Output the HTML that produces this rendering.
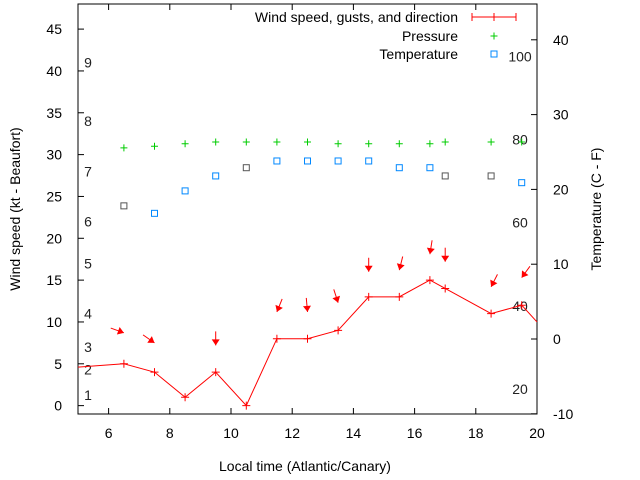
<!DOCTYPE html>
<html><head><meta charset="utf-8"><style>
body{margin:0;background:#fff}
svg{display:block;font-family:"Liberation Sans",sans-serif}
</style></head><body>
<svg id="chart" width="640" height="480" xmlns="http://www.w3.org/2000/svg"></svg>
<script>
const windX=[5,6.5,7.5,8.5,9.5,10.5,11.5,12.5,13.5,14.5,15.5,16.5,17,18.5,19.5,20];
const windY=[4.6,5,4,1,4,0,8,8,9,13,13,15,14,11,12,10];
const arrowX=[6.5,7.5,9.5,11.5,12.5,13.5,14.5,15.5,16.5,17,18.5,19.5];
const arrowTip=[8.7,7.5,7.2,11.2,11.2,12.3,16.0,16.2,18.1,17.2,14.2,15.3];
const arrowAngle=[-70,-55,0,22,-5,-18,0,14,9,0,27,36];
const pressX=[6.5,7.5,8.5,9.5,10.5,11.5,12.5,13.5,14.5,15.5,16.5,17,18.5,19.5];
const pressY=[30.8,31.0,31.3,31.5,31.5,31.5,31.5,31.3,31.3,31.3,31.3,31.5,31.5,31.5];
const tempX=[6.5,7.5,8.5,9.5,10.5,11.5,12.5,13.5,14.5,15.5,16.5,17,18.5,19.5];
const tempC=[17.8,16.8,19.8,21.8,22.9,23.8,23.8,23.8,23.8,22.9,22.9,21.8,21.8,20.9];
const tempGray=[1,0,0,0,1,0,0,0,0,0,0,1,1,0];
const xTicks=[6,8,10,12,14,16,18,20];
const yTicks=[0,5,10,15,20,25,30,35,40,45];
const y2Ticks=[-10,0,10,20,30,40];
const beaufort=[1,2,3,4,5,6,7,8,9];
const beaufortKt=[1.3,4.3,7.0,11.0,17.0,22.0,28.0,34.0,41.0];
const fahr=[20,40,60,80,100];

const L=78,R=537,T=4,B=414;
const sx=v=>L+(v-5)/(20-5)*(R-L);
const sy=v=>B-(v+1)/(48+1)*(B-T);
const sy2=v=>339-v*7.48;
const svg=document.getElementById('chart');
const NS='http://www.w3.org/2000/svg';
function el(tag,attrs,parent){const e=document.createElementNS(NS,tag);for(const k in attrs)e.setAttribute(k,attrs[k]);(parent||svg).appendChild(e);return e;}
function txt(x,y,s,anchor,size,color){const t=el('text',{x:x,y:y,'font-size':size||14,'text-anchor':anchor||'start',fill:color||'#000'});t.textContent=s;return t;}

const frame=el('rect',{x:L,y:T,width:R-L,height:B-T,fill:'none',stroke:'#000'});



xTicks.forEach(v=>{const x=sx(v);
 const tk=el('line',{x1:x,y1:B,x2:x,y2:B-6,stroke:'#000'});
 
 
 el('line',{x1:x,y1:T,x2:x,y2:T+6,stroke:'#000'});
 const t=txt(x,438,v,'middle');
 
 });
yTicks.forEach(v=>{const y=sy(v);
 el('line',{x1:L,y1:y,x2:L+6,y2:y,stroke:'#000'});
 const t=txt(62,y+5,v,'end');
 
 });
y2Ticks.forEach(v=>{const y=sy2(v);
 el('line',{x1:R,y1:y,x2:R-6,y2:y,stroke:'#000'});
 const t=txt(553,y+5,v,'start');
 
 });
beaufort.forEach((b,i)=>{const t=txt(88,sy(beaufortKt[i])+5,b,'middle',14,'#222');
 
 });
fahr.forEach(f=>{const c=(f-32)*5/9;const t=txt(520,sy2(c)+5,f,'middle',14,'#222');
 
 });

let xl=txt(305,471,'Local time (Atlantic/Canary)','middle');


let yl=txt(0,0,'Wind speed (kt - Beaufort)','middle');
yl.setAttribute('transform','translate(20,209) rotate(-90)');


let y2l=txt(0,0,'Temperature (C - F)','middle');
y2l.setAttribute('transform','translate(601,209) rotate(-90)');



// wind line
const pts=windX.map((x,i)=>sx(x)+','+sy(windY[i])).join(' ');
const wl=el('polyline',{points:pts,fill:'none',stroke:'#f00','stroke-width':1});


windX.forEach((x,i)=>{if(i===0||i===windX.length-1)return;const cx=sx(x),cy=sy(windY[i]);
 const p=el('path',{d:`M${cx-4},${cy}H${cx+4}M${cx},${cy-4}V${cy+4}`,stroke:'#f00'});
 
 });
// arrows
arrowX.forEach((x,i)=>{const a=arrowAngle[i]*Math.PI/180;const tx=sx(x),ty=sy(arrowTip[i]);
 const dx=-Math.sin(a),dy=Math.cos(a),Ln=14;
 const g=el('g',{});
 
 
 el('line',{x1:tx-dx*Ln,y1:ty-dy*Ln,x2:tx,y2:ty,stroke:'#f00'},g);
 const px=-dy,py=dx;
 el('polygon',{points:`${tx},${ty} ${tx-dx*6+px*4},${ty-dy*6+py*4} ${tx-dx*6-px*4},${ty-dy*6-py*4}`,fill:'#f00'},g);});
// pressure
pressX.forEach((x,i)=>{const cx=sx(x),cy=sy(pressY[i]);
 const p=el('path',{d:`M${cx-3.5},${cy}H${cx+3.5}M${cx},${cy-3.5}V${cy+3.5}`,stroke:'#0c0'});
 
 });
// temperature
tempX.forEach((x,i)=>{const cx=sx(x),cy=sy2(tempC[i]);
 const r=el('rect',{x:cx-3,y:cy-3,width:6,height:6,fill:'none',stroke:tempGray[i]?'#555':'#08f'});
 
 });
// legend
const lg=el('g',{});


const l1=txt(458,22,'Wind speed, gusts, and direction','end');


el('path',{d:'M472,17H516M472,13V21M516,13V21M494,13V21',stroke:'#f00'},lg);
const l2=txt(458,41,'Pressure','end');


el('path',{d:'M490.5,36H497.5M494,32.5V39.5',stroke:'#0c0'},lg);
const l3=txt(458,59,'Temperature','end');


el('rect',{x:491,y:51,width:6,height:6,fill:'none',stroke:'#08f'},lg);
</script>
</body></html>
